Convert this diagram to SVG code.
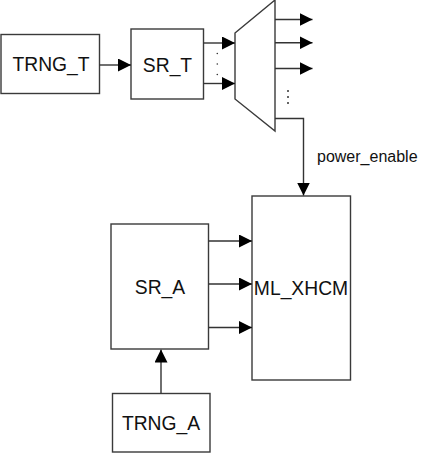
<svg xmlns="http://www.w3.org/2000/svg" width="421" height="454" viewBox="0 0 421 454">
<style>
.box{fill:#fff;stroke:#3a3a3a;stroke-width:1.4}
.lbl{font-family:"Liberation Sans",Arial,sans-serif;font-size:19.3px;fill:#111;text-anchor:middle}
.small{font-family:"Liberation Sans",Arial,sans-serif;font-size:16px;fill:#111}
.wire{fill:none;stroke:#333;stroke-width:1.4}
.dot{fill:#333}
</style>
<defs>
<marker id="arr" markerUnits="userSpaceOnUse" viewBox="0 0 13 13" markerWidth="13" markerHeight="13" refX="13" refY="6.5" orient="auto">
<path d="M0,0 L13,6.5 L0,13 Z" fill="#000"/>
</marker>
</defs>
<rect width="421" height="454" fill="#fff"/>
<g id="TRNG_T"><rect class="box" x="1" y="34.5" width="98.5" height="59"/><text class="lbl" x="51" y="71">TRNG_T</text></g>
<g id="SR_T"><rect class="box" x="131" y="29" width="72.5" height="70"/><text class="lbl" x="167.5" y="71.5">SR_T</text></g>
<g id="MUX"><path class="box" d="M235,33 L275,0 L275,131 L235,99 Z"/></g>
<g id="ML_XHCM"><rect class="box" x="252" y="196" width="98.5" height="184"/><text class="lbl" x="301" y="295">ML_XHCM</text></g>
<g id="SR_A"><rect class="box" x="111" y="224" width="97.5" height="125"/><text class="lbl" x="160" y="293.5">SR_A</text></g>
<g id="TRNG_A"><rect class="box" x="112.5" y="393.5" width="97.5" height="58.5"/><text class="lbl" x="161" y="430">TRNG_A</text></g>
<g id="connectors">
<path class="wire" d="M99.5,65 L131,65" marker-end="url(#arr)"/>
<path class="wire" d="M203.5,43 L235,43" marker-end="url(#arr)"/>
<path class="wire" d="M203.5,83.5 L235,83.5" marker-end="url(#arr)"/>
<path class="wire" d="M275,19.5 L312.5,19.5" marker-end="url(#arr)"/>
<path class="wire" d="M275,42.8 L312.5,42.8" marker-end="url(#arr)"/>
<path class="wire" d="M275,68.5 L312.5,68.5" marker-end="url(#arr)"/>
<path class="wire" d="M275,118.5 L303.5,118.5 L303.5,195.5" marker-end="url(#arr)"/>
<path class="wire" d="M208.5,241 L252,241" marker-end="url(#arr)"/>
<path class="wire" d="M208.5,284 L252,284" marker-end="url(#arr)"/>
<path class="wire" d="M208.5,327.5 L252,327.5" marker-end="url(#arr)"/>
<path class="wire" d="M161,393.5 L161,349.5" marker-end="url(#arr)"/>
<circle class="dot" cx="217.3" cy="53.5" r="0.8"/>
<circle class="dot" cx="217.3" cy="64" r="0.8"/>
<circle class="dot" cx="217.3" cy="74.5" r="0.8"/>
<circle class="dot" cx="288" cy="91" r="1"/>
<circle class="dot" cx="288" cy="97" r="1"/>
<circle class="dot" cx="288" cy="103" r="1"/>
<text class="small" x="317" y="162">power_enable</text>
</g>
</svg>
